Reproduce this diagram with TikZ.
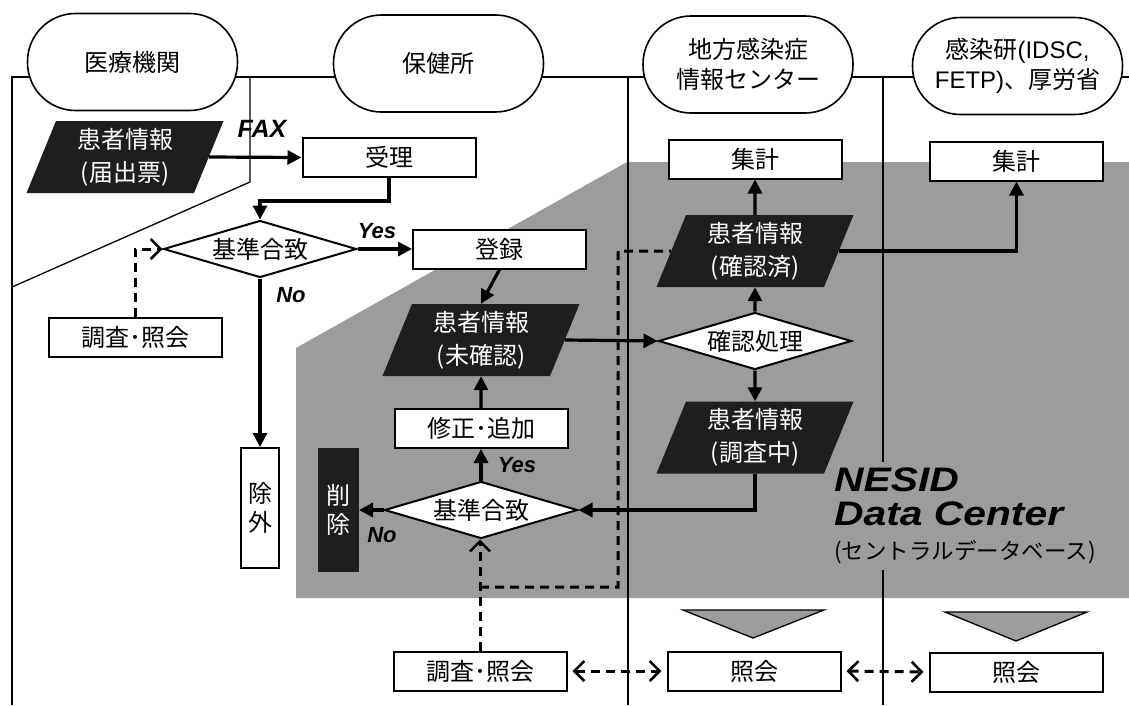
\documentclass[tikz,border=0pt]{standalone}
\usepackage{fontspec}
\usepackage{graphicx}
\newfontfamily\jp{Noto Sans CJK JP}
\newfontfamily\lat{Liberation Sans}
\usetikzlibrary{shapes.geometric,arrows.meta}
\definecolor{bg}{HTML}{9C9C9C}
\definecolor{blk}{HTML}{1E1E1E}
\newcommand{\bigit}[1]{\scalebox{1.2}[1]{\lat\bfseries\itshape\fontsize{34}{34}\selectfont #1}}
\begin{document}
\begin{tikzpicture}[x=1pt,y=-1pt,
  lane/.style={line width=1.3pt},
  jpt/.style={font=\jp\fontsize{24}{29}\selectfont},
  box/.style={draw, line width=2pt, fill=white, minimum width=173pt, minimum height=39pt, inner sep=0pt, jpt},
  pill/.style={draw, line width=1.6pt, fill=white, rounded corners=48pt, minimum width=210pt, minimum height=97pt, inner sep=0pt, align=center, font=\jp\fontsize{24}{30}\selectfont},
  para/.style={trapezium, trapezium left angle=63, trapezium right angle=117, trapezium stretches body, fill=blk, text=white, minimum width=197pt, minimum height=72pt, inner sep=0pt, align=center, font=\jp\fontsize{24}{33}\selectfont},
  dec/.style={diamond, draw, line width=2pt, fill=white, minimum width=193pt, minimum height=57pt, inner sep=0pt},
  dlab/.style={label={[jpt]center:#1}},
  flow/.style={line width=3.2pt, -{Triangle[length=14pt,width=14pt]}},
  dsh/.style={line width=3pt, dash pattern=on 9pt off 6pt},
  dtip/.style={-{Straight Barb[length=10pt,width=20pt,line width=2.6pt]}},
  dboth/.style={{Straight Barb[length=10pt,width=20pt,line width=2.6pt]}-{Straight Barb[length=10pt,width=20pt,line width=2.6pt]}, shorten <=5pt, shorten >=5pt},
  lbl/.style={font=\lat\bfseries\itshape\fontsize{22}{22}\selectfont, inner sep=0pt}
]
\useasboundingbox[fill=white] (0,0) rectangle (1129,705);

% gray data-center region
\fill[bg] (627,162) -- (1129,162) -- (1129,598) -- (296,598) -- (296,348) -- cycle;

% lane lines
\draw[lane] (12,705) -- (12,77) -- (1129,77);
\draw[lane] (250,77) -- (250,182) -- (12,287);
\draw[lane] (628,77) -- (628,705);
\draw[lane] (883,77) -- (883,705);

% header pills
\node[pill] (p1) at (132.5,62) {医療機関};
\node[pill] (p2) at (438.5,63.5) {保健所};
\node[pill] (p3) at (748,64.5) {地方感染症\\情報センター};
\node[pill] (p4) at (1017.5,66) {感染研{\lat(IDSC,}\\{\lat FETP)}、厚労省};

% NESID label
\node[fill=bg, inner xsep=3pt, inner ysep=6pt, anchor=north west, align=left, font=\jp\fontsize{22.5}{34}\selectfont] (nesid) at (831,462) {\bigit{NESID}\\\bigit{Data Center}\\(セントラルデータベース)};

% nodes
\node[para] (todoke) at (125,157) {患者情報\\(届出票)};
\node[box] (uke) at (389,157.5) {受理};
\node[lbl, font=\lat\bfseries\itshape\fontsize{25}{25}\selectfont] (fax) at (262,129) {FAX};
\node[dec, dlab=基準合致] (k1) at (260,249) {};
\node[box] (toroku) at (499.5,249) {登録};
\node[lbl] (yes1) at (377,231) {Yes};
\node[lbl] (no1) at (291,295) {No};
\node[box] (chosa1) at (135,337.5) {調査･照会};
\node[box, minimum width=38pt, minimum height=120pt, align=center] (jogai) at (260,508) {除\\外};

\node[para] (mi) at (481,340) {患者情報\\(未確認)};
\node[box] (shusei) at (481,428.5) {修正･追加};
\node[dec, dlab=基準合致] (k2) at (481,510) {};
\node[lbl] (yes2) at (517,465) {Yes};
\node[lbl] (no2) at (382,535) {No};
\node[box, fill=blk, text=white, draw=blk, minimum width=39pt, minimum height=122pt, align=center] (sakujo) at (338.5,510) {削\\除};
\node[box] (chosa2) at (480,671) {調査･照会};

\node[box] (shu1) at (755,159) {集計};
\node[para] (kz) at (755,251) {患者情報\\(確認済)};
\node[dec, dlab=確認処理] (kp) at (755,341) {};
\node[para] (cz) at (755,437.5) {患者情報\\(調査中)};
\node[box] (sho1) at (754,671) {照会};

\node[box] (shu2) at (1016.5,161) {集計};
\node[box] (sho2) at (1016,672) {照会};

% triangles
\draw[line width=1.3pt, fill=bg] (683,610) -- (824,610) -- (753,638) -- cycle;
\draw[line width=1.3pt, fill=bg] (945,612) -- (1087,612) -- (1016,641) -- cycle;

% solid flow arrows
\draw[flow] (todoke.east) -- (uke.west);
\draw[flow] (uke.south) -- ++(0,23) -| (k1.north);
\draw[flow] (k1.east) -- (toroku.west);
\draw[flow] (k1.south) -- (jogai.north);
\draw[flow] (toroku.south) -- (mi.north);
\draw[flow] (mi.east) -- (kp.west);
\draw[flow] (kp.north) -- (kz.south);
\draw[flow] (kz.north) -- (shu1.south);
\draw[flow] (kz.east) -| (shu2.south);
\draw[flow] (kp.south) -- (cz.north);
\draw[flow] (cz.south) |- (k2.east);
\draw[flow] (k2.north) -- (shusei.south);
\draw[flow] (shusei.north) -- (mi.south);
\draw[flow] (k2.west) -- (sakujo.east);

% dashed links
\coordinate (dj) at (480,587);
\coordinate (dc) at (618,251);
\draw[dsh, dtip] (chosa1.north) |- (k1.west);
\draw[dsh, dtip] (chosa2.north) -- (chosa2.north |- k2.south);
\draw[dsh] (dj) -| (dc) -- (kz.west);
\draw[dsh, dboth] (chosa2.east) -- (sho1.west);
\draw[dsh, dboth] (sho1.east) -- (sho2.west);
\end{tikzpicture}
\end{document}
